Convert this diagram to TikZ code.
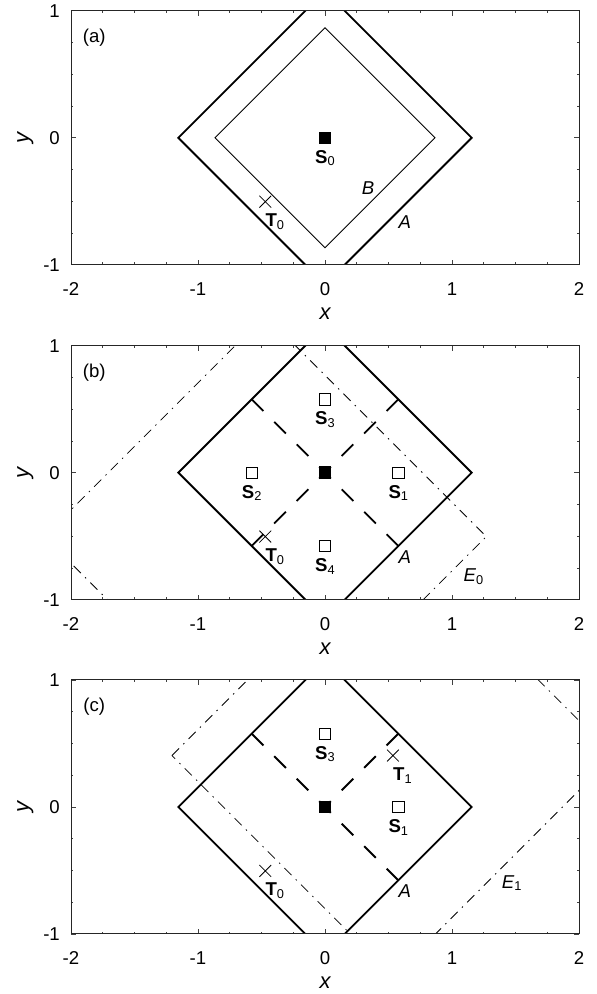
\documentclass[tikz,border=0pt]{standalone}
\usepackage{fontspec}
\setmainfont{Liberation Sans}
\usetikzlibrary{shapes.misc}
\newcommand\mysub[1]{\raisebox{-2.6bp}{\fontsize{12.8bp}{13bp}\selectfont\mdseries\upshape #1}}
\tikzset{
 frameline/.style={draw=black!85, line width=1bp},
 tickline/.style={draw=black!75, line width=0.7bp},
 curveA/.style={draw=black, line width=1.9bp},
 curveB/.style={draw=black, line width=0.9bp},
 dashline/.style={draw=black, line width=1.8bp, dash pattern=on 16.5bp off 15.3bp},
 dashdot/.style={draw=black, line width=0.75bp, dash pattern=on 10bp off 6bp on 1.5bp off 6bp},
 filledsq/.style={draw=none, fill=black, minimum size=12.5bp, inner sep=0pt, outer sep=0pt},
 opensq/.style={draw=black, line width=0.8bp, minimum size=11.5bp, inner sep=0pt},
 crossmk/.style={cross out, draw=black, line width=0.8bp, minimum size=11bp, inner sep=0pt},
 txt/.style={font=\fontsize{18.6bp}{22bp}\selectfont, inner sep=0pt},
 axlab/.style={font=\fontsize{22bp}{26bp}\selectfont\itshape, inner sep=0pt},
}
\newcommand\panelaxes[2]{%
 \foreach \t in {-1.75,-1.5,-1.25,-0.75,-0.5,-0.25,0.25,0.5,0.75,1.25,1.5,1.75} {
   \draw[tickline] (\t,-1) -- ++(0pt,2.3bp);
   \draw[tickline] (\t,1) -- ++(0pt,-2.3bp);
 }
 \foreach \t in {-2,-1,0,1,2} {
   \draw[tickline] (\t,-1) -- ++(0pt,5bp);
   \draw[tickline] (\t,1) -- ++(0pt,-5bp);
 }
 \foreach \t in {-0.75,-0.5,-0.25,0.25,0.5,0.75} {
   \draw[tickline] (-2,\t) -- ++(2.3bp,0pt);
   \draw[tickline] (2,\t) -- ++(-2.3bp,0pt);
 }
 \foreach \t in {-1,0,1} {
   \draw[tickline] (-2,\t) -- ++(5bp,0pt);
   \draw[tickline] (2,\t) -- ++(-5bp,0pt);
 }
 \draw[frameline] (-2,-1) rectangle (2,1);
 \node[txt] (#1xm2) at ([yshift=-24.5bp]-2,-1) {-2};
 \node[txt] (#1xm1) at ([yshift=-24.5bp]-1,-1) {-1};
 \node[txt] (#1xz) at ([yshift=-24.5bp]0,-1) {0};
 \node[txt] (#1xp1) at ([yshift=-24.5bp]1,-1) {1};
 \node[txt] (#1xp2) at ([yshift=-24.5bp]2,-1) {2};
 \node[txt, anchor=east] (#1ym1) at ([xshift=-11bp]-2,-1) {-1};
 \node[txt, anchor=east] (#1yz) at ([xshift=-11bp]-2,0) {0};
 \node[txt, anchor=east] (#1yp1) at ([xshift=-11bp]-2,1) {1};
 \node[axlab] (#1xlab) at ([yshift=-49bp]0,-1) {x};
 \node[axlab, rotate=90] (#1ylab) at ([xshift=-45.7bp]-2,0) {y};
 \node[txt] (#1tag) at (-1.817,0.791) {(#1)};
}
\begin{document}
\begin{tikzpicture}[x=127bp, y=127bp]
\path[use as bounding box] (0bp,0bp) rectangle (597bp,994bp);

% ---------------- panel (a)
\begin{scope}[shift={(325bp,856.2bp)}]
 \begin{scope}
  \clip (-2,-1) rectangle (2,1);
  \draw[curveA] (-1.1547,0) -- (0,1.1547) -- (1.1547,0) -- (0,-1.1547) -- cycle;
  \draw[curveB] (-0.866,0) -- (0,0.866) -- (0.866,0) -- (0,-0.866) -- cycle;
 \end{scope}
 \node[filledsq] (aS0) at (0,0) {};
 \node[txt, anchor=base] (aS0l) at ([yshift=-25.5bp]0,0) {\textbf{S}\mysub{0}};
 \node[crossmk] (aT0) at (-0.47,-0.503) {};
 \node[txt, anchor=base west] (aT0l) at ([yshift=-25bp]-0.47,-0.503) {\textbf{T}\mysub{0}};
 \node[txt, anchor=base west] (aAl) at (0.578,-0.713) {\textit{A}};
 \node[txt, anchor=base west] (aBl) at (0.289,-0.445) {\textit{B}};
 \panelaxes{a}{}
\end{scope}

% ---------------- panel (b)
\begin{scope}[shift={(325bp,521.3bp)}]
 \begin{scope}
  \clip (-2,-1) rectangle (2,1);
  \draw[dashdot] (-2.21,-0.503) -- (-0.47,1.237) -- (1.27,-0.503) -- (-0.47,-2.243) -- cycle;
  \draw[curveA] (-1.1547,0) -- (0,1.1547) -- (1.1547,0) -- (0,-1.1547) -- cycle;
 \end{scope}
 \coordinate (bc1) at (0.577,0.577);
 \coordinate (bc2) at (-0.577,0.577);
 \coordinate (bc3) at (-0.577,-0.577);
 \coordinate (bc4) at (0.577,-0.577);
 \draw[dashline] (bc2) -- (bc4);
 \draw[dashline] (bc3) -- (bc1);
 \node[filledsq] (bS0) at (0,0) {};
 \node[opensq] (bS1) at (0.577,0) {};
 \node[opensq] (bS2) at (-0.577,0) {};
 \node[opensq] (bS3) at (0,0.577) {};
 \node[opensq] (bS4) at (0,-0.577) {};
 \node[txt, anchor=base] (bS1l) at ([yshift=-25.5bp]0.577,0) {\textbf{S}\mysub{1}};
 \node[txt, anchor=base] (bS2l) at ([yshift=-25.5bp]-0.577,0) {\textbf{S}\mysub{2}};
 \node[txt, anchor=base] (bS3l) at ([yshift=-25.5bp]0,0.577) {\textbf{S}\mysub{3}};
 \node[txt, anchor=base] (bS4l) at ([yshift=-25.5bp]0,-0.577) {\textbf{S}\mysub{4}};
 \node[crossmk] (bT0) at (-0.47,-0.503) {};
 \node[txt, anchor=base west] (bT0l) at ([yshift=-25bp]-0.47,-0.503) {\textbf{T}\mysub{0}};
 \node[txt, anchor=base west] (bAl) at (0.578,-0.713) {\textit{A}};
 \node[txt, anchor=base west] (bEl) at (1.089,-0.858) {\textit{E}\mysub{0}};
 \panelaxes{b}{}
\end{scope}

% ---------------- panel (c)
\begin{scope}[shift={(325bp,187bp)}]
 \begin{scope}
  \clip (-2,-1) rectangle (2,1);
  \draw[dashdot] (-1.205,0.405) -- (0.535,2.145) -- (2.275,0.405) -- (0.535,-1.335) -- cycle;
  \draw[curveA] (-1.1547,0) -- (0,1.1547) -- (1.1547,0) -- (0,-1.1547) -- cycle;
 \end{scope}
 \coordinate (cc1) at (0.577,0.577);
 \coordinate (cc2) at (-0.577,0.577);
 \coordinate (cc4) at (0.577,-0.577);
 \coordinate (cc0) at (0,0);
 \draw[dashline] (cc2) -- (cc4);
 \draw[dashline] (cc1) -- (cc0);
 \node[filledsq] (cS0) at (0,0) {};
 \node[opensq] (cS1) at (0.577,0) {};
 \node[opensq] (cS3) at (0,0.577) {};
 \node[txt, anchor=base] (cS1l) at ([yshift=-25.5bp]0.577,0) {\textbf{S}\mysub{1}};
 \node[txt, anchor=base] (cS3l) at ([yshift=-25.5bp]0,0.577) {\textbf{S}\mysub{3}};
 \node[crossmk] (cT0) at (-0.47,-0.503) {};
 \node[txt, anchor=base west] (cT0l) at ([yshift=-25bp]-0.47,-0.503) {\textbf{T}\mysub{0}};
 \node[crossmk] (cT1) at (0.535,0.405) {};
 \node[txt, anchor=base west] (cT1l) at ([yshift=-25bp]0.535,0.405) {\textbf{T}\mysub{1}};
 \node[txt, anchor=base west] (cAl) at (0.578,-0.711) {\textit{A}};
 \node[txt, anchor=base west] (cEl) at (1.391,-0.640) {\textit{E}\mysub{1}};
 \panelaxes{c}{}
\end{scope}
\end{tikzpicture}
\end{document}
